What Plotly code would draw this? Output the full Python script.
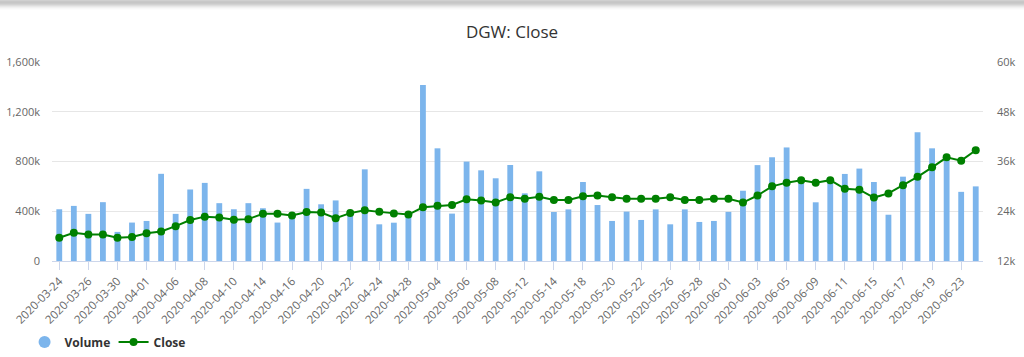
import plotly.graph_objects as go

dates = ["2020-03-24","2020-03-25","2020-03-26","2020-03-27","2020-03-30","2020-03-31","2020-04-01","2020-04-03",
         "2020-04-06","2020-04-07","2020-04-08","2020-04-09","2020-04-10","2020-04-13","2020-04-14","2020-04-15",
         "2020-04-16","2020-04-17","2020-04-20","2020-04-21","2020-04-22","2020-04-23","2020-04-24","2020-04-27",
         "2020-04-28","2020-04-29","2020-05-04","2020-05-05","2020-05-06","2020-05-07","2020-05-08","2020-05-11",
         "2020-05-12","2020-05-13","2020-05-14","2020-05-15","2020-05-18","2020-05-19","2020-05-20","2020-05-21",
         "2020-05-22","2020-05-25","2020-05-26","2020-05-27","2020-05-28","2020-05-29","2020-06-01","2020-06-02",
         "2020-06-03","2020-06-04","2020-06-05","2020-06-08","2020-06-09","2020-06-10","2020-06-11","2020-06-12",
         "2020-06-15","2020-06-16","2020-06-17","2020-06-18","2020-06-19","2020-06-22","2020-06-23","2020-06-24"]

volume = [416000, 443000, 379000, 473000, 234000, 309000, 322000, 701000,
          379000, 575000, 628000, 465000, 416000, 465000, 424000, 309000,
          360000, 580000, 456000, 487000, 365000, 737000, 295000, 308000,
          375000, 1415000, 906000, 381000, 799000, 729000, 665000, 772000,
          544000, 721000, 394000, 415000, 635000, 450000, 322000, 397000,
          330000, 415000, 295000, 415000, 314000, 322000, 395000, 565000,
          771000, 834000, 913000, 645000, 472000, 655000, 700000, 743000,
          635000, 372000, 678000, 1035000, 906000, 840000, 556000, 600000]

close = [17600, 18800, 18400, 18400, 17600, 17800, 18700, 19100,
         20400, 21900, 22700, 22500, 21950, 22100, 23400, 23400,
         23000, 23800, 23700, 22300, 23550, 24250, 23850, 23450,
         23200, 24950, 25300, 25500, 26900, 26600, 26100, 27400,
         27000, 27500, 26700, 26700, 27600, 27800, 27400, 27000,
         27000, 27000, 27400, 26700, 26700, 27000, 27000, 26100,
         27800, 30000, 30900, 31500, 30900, 31500, 29400, 29200,
         27300, 28300, 30300, 32300, 34600, 37000, 36200, 38700]

vol_ticks = [0, 400000, 800000, 1200000, 1600000]
vol_ticktext = ["0", "400k", "800k", "1,200k", "1,600k"]
close_ticks = [12000, 24000, 36000, 48000, 60000]
close_ticktext = ["12k", "24k", "36k", "48k", "60k"]
x_tickvals = dates[::2]

BLUE = "#7cb5ec"
GREEN = "#008000"
FONT = "Open Sans"

fig = go.Figure()
fig.add_trace(go.Bar(x=dates, y=volume, name="Volume", marker=dict(color=BLUE, line=dict(width=0)),
                     width=0.4, showlegend=False, yaxis="y"))
# legend entry with circle symbol
fig.add_trace(go.Scatter(x=[None], y=[None], mode="markers", name="Volume",
                         marker=dict(color=BLUE, size=12, symbol="circle"), yaxis="y"))
fig.add_trace(go.Scatter(x=dates, y=close, name="Close", mode="lines+markers",
                         line=dict(color=GREEN, width=2), marker=dict(color=GREEN, size=8),
                         yaxis="y2"))

W, H = 1024, 357
L, R, T, B = 52, 41, 62, 96
ph = H - T - B
def py(px):
    return (H - B - px) / ph

shapes = []
grays = ["#d0d0d0", "#c8c8c8", "#c6c6c6", "#cacaca", "#d2d2d2", "#dddddd", "#e8e8e8", "#f1f1f1", "#f8f8f8", "#fcfcfc"]
for i, g in enumerate(grays):
    shapes.append(dict(type="rect", xref="paper", yref="paper",
                       x0=-L / (W - L - R), x1=(W - L) / (W - L - R),
                       y0=py(i + 1), y1=py(i), fillcolor=g, line=dict(width=0), layer="below"))

fig.update_layout(
    width=W, height=H,
    margin=dict(l=L, r=R, t=T, b=B, autoexpand=False),
    paper_bgcolor="white", plot_bgcolor="white",
    font=dict(family=FONT, color="#666666", size=11),
    title=dict(text="DGW: Close", x=0.5, xanchor="center", y=1 - 32 / H, yanchor="middle",
               font=dict(family=FONT, size=17, color="#333333")),
    shapes=shapes,
    showlegend=True,
    legend=dict(orientation="h", xref="container", yref="container", x=0.024, y=(H - 342) / H,
                xanchor="left", yanchor="middle", entrywidth=44,
                font=dict(family=FONT, size=12, color="#333333", weight="bold"),
                itemwidth=30, tracegroupgap=0, bgcolor="rgba(0,0,0,0)"),
    xaxis=dict(type="category", range=[-0.5, len(dates) - 0.5], automargin=False,
               tickmode="array", tickvals=x_tickvals, ticktext=x_tickvals,
               tickangle=-45, ticks="outside", ticklen=8, tickcolor="#ccd6eb",
               showline=True, linecolor="#ccd6eb", linewidth=1, showgrid=False,
               tickfont=dict(size=11.5, color="#666666"), fixedrange=True),
    yaxis=dict(range=[0, 1600000], tickmode="array", tickvals=vol_ticks, ticktext=vol_ticktext,
               showgrid=True, gridcolor="#e6e6e6", gridwidth=1, zeroline=False, automargin=False,
               ticks="", ticklabelstandoff=11, tickfont=dict(size=11, color="#666666")),
    yaxis2=dict(range=[12000, 60000], overlaying="y", side="right", tickmode="array", automargin=False,
                tickvals=close_ticks, ticktext=close_ticktext, showgrid=False, zeroline=False,
                ticks="", ticklabelstandoff=13, tickfont=dict(size=11, color="#666666")),
)

fig.write_html("out.html", config={"displayModeBar": False},
               post_script="document.body.style.margin='0';")
